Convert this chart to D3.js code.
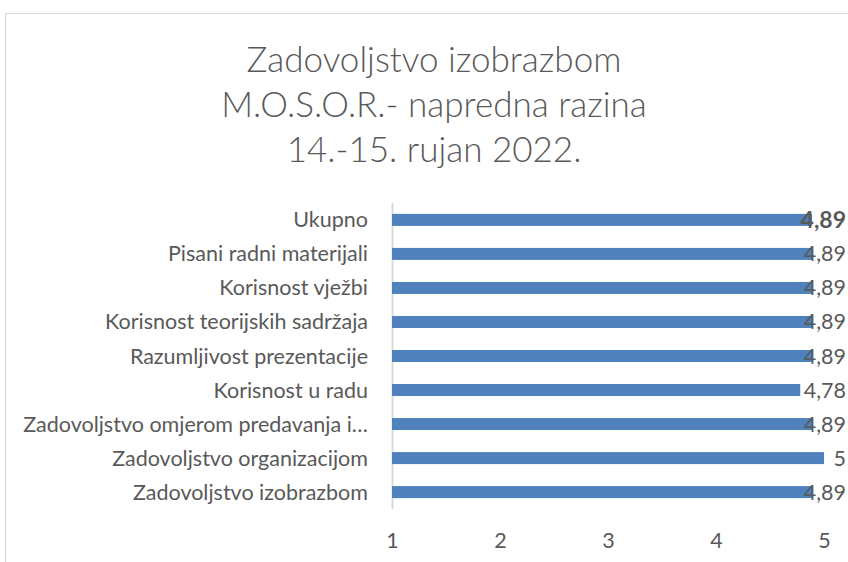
<!DOCTYPE html>
<html lang="hr">
<head>
<meta charset="UTF-8">
<title>Zadovoljstvo izobrazbom</title>
<script src="https://d3js.org/d3.v7.min.js"></script>
<style>
    body { margin: 0; background: #fff; font-family: Lato, "Liberation Sans", Arial, sans-serif; }
    svg text { fill: #595959; font-family: Lato, "Liberation Sans", Arial, sans-serif; }
    svg text.title { font-weight: 300; }
</style>
</head>
<body>
<svg width="848" height="562"></svg>
<script>
    // data
    const categories = [
        "Ukupno",
        "Pisani radni materijali",
        "Korisnost vježbi",
        "Korisnost teorijskih sadržaja",
        "Razumljivost prezentacije",
        "Korisnost u radu",
        "Zadovoljstvo omjerom predavanja i…",
        "Zadovoljstvo organizacijom",
        "Zadovoljstvo izobrazbom"
    ];
    const values = [4.89, 4.89, 4.89, 4.89, 4.89, 4.78, 4.89, 5, 4.89];
    const valueLabels = ["4,89", "4,89", "4,89", "4,89", "4,89", "4,78", "4,89", "5", "4,89"];
    const tickValues = [1, 2, 3, 4, 5];
    const titleLines = ["Zadovoljstvo izobrazbom", "M.O.S.O.R.- napredna razina", "14.-15. rujan 2022."];

    const svg = d3.select("svg");

    // chart border (cropped at right/bottom like the original)
    svg.append("rect")
        .attr("x", 5.5).attr("y", 13.5)
        .attr("width", 900).attr("height", 600)
        .attr("fill", "none")
        .attr("stroke", "#d9d9d9");

    const title = svg.append("g")
        .selectAll("text")
        .data(titleLines)
        .join("text")
        .attr("class", "title")
        .attr("x", 434)
        .attr("y", (d, i) => 72 + i * 45)
        .attr("text-anchor", "middle")
        .style("font-size", "34px")
        .text(d => d);
    // fit first line to the width seen in the picture (~375px)
    const w0 = title.node().getComputedTextLength();
    title.style("font-size", (34 * 375 / w0) + "px");

    const x = d3.scaleLinear().domain([1, 5]).range([392, 824]);
    const y = d3.scaleBand()
        .domain(categories)
        .range([203, 509])
        .paddingInner(0.647)
        .paddingOuter(0.32);

    // vertical axis line
    svg.append("line")
        .attr("x1", 392.5).attr("x2", 392.5)
        .attr("y1", 203).attr("y2", 509)
        .attr("stroke", "#d9d9d9")
        .attr("stroke-width", 2);

    svg.append("g")
        .selectAll("rect")
        .data(categories)
        .join("rect")
        .attr("x", x(1))
        .attr("y", d => y(d))
        .attr("width", (d, i) => x(values[i]) - x(1))
        .attr("height", y.bandwidth())
        .attr("fill", "#4f81bd");

    // category labels
    svg.append("g")
        .selectAll("text")
        .data(categories)
        .join("text")
        .attr("x", 368)
        .attr("y", d => y(d) + y.bandwidth() / 2)
        .attr("dy", "0.35em")
        .attr("text-anchor", "end")
        .style("font-size", "21.5px")
        .text(d => d);

    // value labels, kept inside the picture
    svg.append("g")
        .selectAll("text")
        .data(categories)
        .join("text")
        .attr("y", d => y(d) + y.bandwidth() / 2)
        .attr("dy", "0.35em")
        .style("font-size", (d, i) => i === 0 ? "23px" : "21.5px")
        .style("font-weight", (d, i) => i === 0 ? "bold" : "normal")
        .text((d, i) => valueLabels[i])
        .attr("x", function (d, i) {
            const w = this.getComputedTextLength();
            return Math.min(x(values[i]) + 12, 846 - w);
        });

    // x axis tick labels
    const xAxis = d3.axisBottom(x).tickValues(tickValues).tickFormat(d3.format("d"))
        .tickSize(0).tickPadding(0);
    const gx = svg.append("g")
        .attr("transform", "translate(0,533)")
        .call(xAxis);
    gx.select(".domain").remove();
    gx.selectAll("text")
        .attr("dy", "0.71em")
        .style("font-size", "21.5px")
        .style("font-family", "Lato, 'Liberation Sans', Arial, sans-serif")
        .attr("fill", "#595959");
</script>
</body>
</html>
